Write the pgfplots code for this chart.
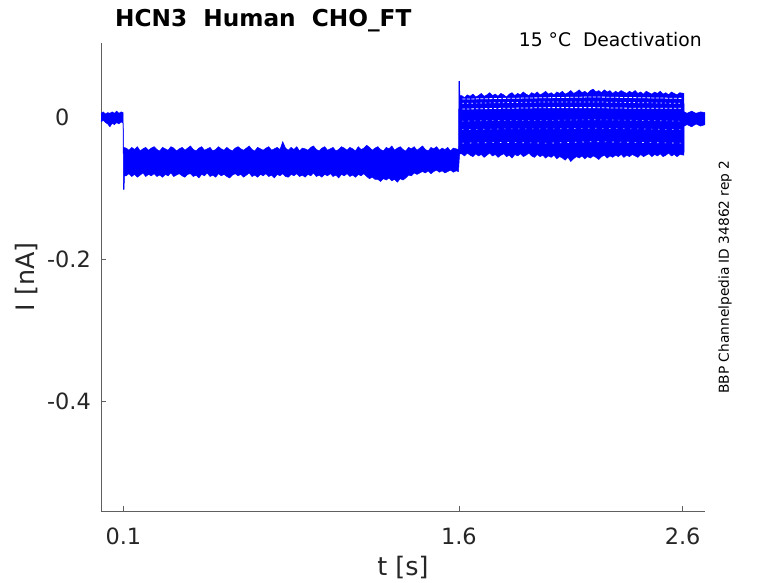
\documentclass[border=0pt]{standalone}
\usepackage{pgfplots}
\pgfplotsset{compat=1.18}
\usepgfplotslibrary{fillbetween}
\usepackage{fontspec}
\setmainfont{DejaVu Sans}
\definecolor{txt}{RGB}{38,38,38}
\definecolor{axc}{RGB}{95,95,95}
\definecolor{tr}{RGB}{0,0,255}
\begin{document}
\begin{tikzpicture}
\begin{axis}[
 at={(0,0)}, anchor=south west,
 scale only axis, width=604bp, height=468bp,
 xmin=0, xmax=2.7, ymin=-0.554, ymax=0.105,
 clip=false,
 axis x line*=bottom, axis y line*=left,
 axis line style={axc, line width=0.6bp, -},
 xtick={0.1,1.6,2.6}, xticklabels={0.1,1.6,2.6},
 ytick={-0.4,-0.2,0}, yticklabels={-0.4,-0.2,0\phantom{.0}},
 tick align=inside, major tick length=5bp,
 tick style={axc, line width=0.6bp},
 xticklabel style={font=\fontsize{22.5}{26}\selectfont, text=txt, anchor=north, inner sep=0pt, yshift=-17bp},
 yticklabel style={font=\fontsize{22.5}{26}\selectfont, text=txt, anchor=east, inner sep=0pt, xshift=-10bp},
 xlabel={t [s]}, ylabel={I [nA]},
 xlabel style={font=\fontsize{25.5}{30}\selectfont, text=txt, at={(axis description cs:0.5,-0.1368)}, anchor=base},
 ylabel style={font=\fontsize{25.5}{30}\selectfont, text=txt, at={(axis description cs:-0.1225,0.5)}, anchor=center},
]
% upper envelope of all sweeps
\addplot[name path=up, draw=tr, line width=0.5bp] coordinates {
(0.000,0.006)(0.010,0.008)(0.020,0.005)(0.030,0.007)(0.040,0.006)(0.050,0.008)(0.060,0.006)(0.070,0.009)(0.080,0.006)(0.090,0.008)(0.099,0.007)
(0.100,-0.042)(0.1125,-0.043)(0.125,-0.046)(0.1375,-0.042)(0.15,-0.045)(0.1625,-0.041)(0.175,-0.047)(0.1875,-0.044)(0.2,-0.042)(0.2125,-0.046)(0.225,-0.043)
(0.2375,-0.041)(0.25,-0.045)(0.2625,-0.047)(0.275,-0.042)(0.2875,-0.044)(0.3,-0.046)(0.3125,-0.041)(0.325,-0.043)(0.3375,-0.047)(0.35,-0.044)
(0.3625,-0.042)(0.375,-0.046)(0.3875,-0.043)(0.4,-0.040)(0.4125,-0.045)(0.425,-0.047)(0.4375,-0.043)(0.45,-0.041)(0.4625,-0.046)(0.475,-0.044)
(0.4875,-0.042)(0.5,-0.047)(0.5125,-0.045)(0.525,-0.041)(0.5375,-0.044)(0.55,-0.046)(0.5625,-0.042)(0.575,-0.045)(0.5875,-0.047)(0.6,-0.043)
(0.6125,-0.041)(0.625,-0.044)(0.6375,-0.046)(0.65,-0.043)(0.6625,-0.040)(0.675,-0.045)(0.6875,-0.047)(0.7,-0.042)(0.7125,-0.044)(0.725,-0.046)
(0.7375,-0.043)(0.75,-0.041)(0.7625,-0.046)(0.775,-0.044)(0.7875,-0.042)(0.8,-0.045)(0.8125,-0.034)(0.825,-0.043)(0.8375,-0.046)(0.85,-0.042)
(0.8625,-0.045)(0.875,-0.041)(0.8875,-0.047)(0.9,-0.043)(0.9125,-0.044)(0.925,-0.046)(0.9375,-0.042)(0.95,-0.040)(0.9625,-0.045)(0.975,-0.047)
(0.9875,-0.043)(1.0,-0.041)(1.0125,-0.046)(1.025,-0.044)(1.0375,-0.042)(1.05,-0.047)(1.0625,-0.045)(1.075,-0.041)(1.0875,-0.043)(1.1,-0.046)
(1.1125,-0.042)(1.125,-0.044)(1.1375,-0.047)(1.15,-0.041)(1.1625,-0.045)(1.175,-0.043)(1.1875,-0.039)(1.2,-0.042)(1.2125,-0.046)(1.225,-0.043)
(1.2375,-0.041)(1.25,-0.045)(1.2625,-0.047)(1.275,-0.042)(1.2875,-0.044)(1.3,-0.040)(1.3125,-0.046)(1.325,-0.043)(1.3375,-0.041)(1.35,-0.045)
(1.3625,-0.047)(1.375,-0.042)(1.3875,-0.044)(1.4,-0.041)(1.4125,-0.046)(1.425,-0.043)(1.4375,-0.040)(1.45,-0.045)(1.4625,-0.047)(1.475,-0.042)
(1.4875,-0.044)(1.5,-0.041)(1.5125,-0.046)(1.525,-0.043)(1.5375,-0.045)(1.55,-0.042)(1.5625,-0.047)(1.575,-0.043)(1.5875,-0.044)(1.598,-0.045)
(1.600,0.051)(1.603,0.051)(1.604,0.031)
(1.6125,0.031)(1.625,0.028)(1.6375,0.032)(1.65,0.030)(1.6625,0.033)(1.675,0.029)(1.6875,0.031)(1.7,0.034)(1.7125,0.030)(1.725,0.032)
(1.7375,0.035)(1.75,0.031)(1.7625,0.033)(1.775,0.030)(1.7875,0.034)(1.8,0.032)(1.8125,0.029)(1.825,0.033)(1.8375,0.035)(1.85,0.031)
(1.8625,0.034)(1.875,0.032)(1.8875,0.036)(1.9,0.033)(1.9125,0.031)(1.925,0.035)(1.9375,0.033)(1.95,0.036)(1.9625,0.032)(1.975,0.034)
(1.9875,0.037)(2.0,0.033)(2.0125,0.035)(2.025,0.032)(2.0375,0.036)(2.05,0.034)(2.0625,0.037)(2.075,0.033)(2.0875,0.035)(2.1,0.038)
(2.1125,0.034)(2.125,0.036)(2.1375,0.039)(2.15,0.035)(2.1625,0.037)(2.175,0.034)(2.1875,0.038)(2.2,0.040)(2.2125,0.036)(2.225,0.038)
(2.2375,0.035)(2.25,0.039)(2.2625,0.036)(2.275,0.038)(2.2875,0.034)(2.3,0.037)(2.3125,0.035)(2.325,0.038)(2.3375,0.036)(2.35,0.034)
(2.3625,0.037)(2.375,0.035)(2.3875,0.038)(2.4,0.034)(2.4125,0.036)(2.425,0.033)(2.4375,0.037)(2.45,0.035)(2.4625,0.033)(2.475,0.036)
(2.4875,0.034)(2.5,0.037)(2.5125,0.033)(2.525,0.035)(2.5375,0.032)(2.55,0.036)(2.5625,0.034)(2.575,0.032)(2.5875,0.035)(2.605,0.034)
(2.607,0.008)(2.620,0.006)(2.640,0.009)(2.660,0.006)(2.680,0.008)(2.700,0.007)
};
% lower envelope of all sweeps
\addplot[name path=lo, draw=tr, line width=0.5bp] coordinates {
(0.000,-0.006)(0.010,-0.004)(0.020,-0.007)(0.030,-0.009)(0.040,-0.013)(0.050,-0.008)(0.060,-0.010)(0.070,-0.007)(0.080,-0.009)(0.090,-0.006)(0.099,-0.008)
(0.100,-0.101)(0.103,-0.101)(0.105,-0.082)
(0.1125,-0.082)(0.125,-0.079)(0.1375,-0.083)(0.15,-0.080)(0.1625,-0.084)(0.175,-0.081)(0.1875,-0.078)(0.2,-0.083)(0.2125,-0.080)(0.225,-0.082)
(0.2375,-0.079)(0.25,-0.083)(0.2625,-0.081)(0.275,-0.084)(0.2875,-0.080)(0.3,-0.082)(0.3125,-0.078)(0.325,-0.083)(0.3375,-0.081)(0.35,-0.079)
(0.3625,-0.082)(0.375,-0.084)(0.3875,-0.080)(0.4,-0.079)(0.4125,-0.083)(0.425,-0.081)(0.4375,-0.085)(0.45,-0.080)(0.4625,-0.082)(0.475,-0.078)
(0.4875,-0.083)(0.5,-0.081)(0.5125,-0.084)(0.525,-0.079)(0.5375,-0.082)(0.55,-0.080)(0.5625,-0.083)(0.575,-0.085)(0.5875,-0.081)(0.6,-0.079)
(0.6125,-0.082)(0.625,-0.080)(0.6375,-0.084)(0.65,-0.081)(0.6625,-0.078)(0.675,-0.083)(0.6875,-0.081)(0.7,-0.084)(0.7125,-0.080)(0.725,-0.082)
(0.7375,-0.079)(0.75,-0.083)(0.7625,-0.081)(0.775,-0.085)(0.7875,-0.080)(0.8,-0.082)(0.8125,-0.079)(0.825,-0.083)(0.8375,-0.084)(0.85,-0.080)
(0.8625,-0.082)(0.875,-0.079)(0.8875,-0.083)(0.9,-0.081)(0.9125,-0.084)(0.925,-0.080)(0.9375,-0.082)(0.95,-0.078)(0.9625,-0.083)(0.975,-0.081)
(0.9875,-0.084)(1.0,-0.080)(1.0125,-0.082)(1.025,-0.079)(1.0375,-0.083)(1.05,-0.081)(1.0625,-0.085)(1.075,-0.080)(1.0875,-0.082)(1.1,-0.079)
(1.1125,-0.083)(1.125,-0.081)(1.1375,-0.084)(1.15,-0.080)(1.1625,-0.082)(1.175,-0.079)(1.1875,-0.083)(1.2,-0.086)(1.2125,-0.084)(1.225,-0.087)
(1.2375,-0.087)(1.25,-0.090)(1.2625,-0.086)(1.275,-0.088)(1.2875,-0.085)(1.3,-0.089)(1.3125,-0.087)(1.325,-0.091)(1.3375,-0.086)(1.35,-0.088)
(1.3625,-0.085)(1.375,-0.081)(1.3875,-0.082)(1.4,-0.078)(1.4125,-0.080)(1.425,-0.078)(1.4375,-0.076)(1.45,-0.078)(1.4625,-0.075)(1.475,-0.079)
(1.4875,-0.076)(1.5,-0.074)(1.5125,-0.077)(1.525,-0.075)(1.5375,-0.078)(1.55,-0.076)(1.5625,-0.074)(1.575,-0.077)(1.5875,-0.075)(1.598,-0.076)
(1.603,-0.051)
(1.6125,-0.051)(1.625,-0.054)(1.6375,-0.050)(1.65,-0.053)(1.6625,-0.055)(1.675,-0.051)(1.6875,-0.054)(1.7,-0.052)(1.7125,-0.056)(1.725,-0.053)
(1.7375,-0.050)(1.75,-0.054)(1.7625,-0.052)(1.775,-0.056)(1.7875,-0.053)(1.8,-0.051)(1.8125,-0.055)(1.825,-0.053)(1.8375,-0.057)(1.85,-0.052)
(1.8625,-0.054)(1.875,-0.051)(1.8875,-0.055)(1.9,-0.053)(1.9125,-0.050)(1.925,-0.054)(1.9375,-0.056)(1.95,-0.052)(1.9625,-0.055)(1.975,-0.053)
(1.9875,-0.057)(2.0,-0.054)(2.0125,-0.056)(2.025,-0.053)(2.0375,-0.058)(2.05,-0.055)(2.0625,-0.057)(2.075,-0.060)(2.0875,-0.056)(2.1,-0.062)
(2.1125,-0.058)(2.125,-0.055)(2.1375,-0.057)(2.15,-0.054)(2.1625,-0.058)(2.175,-0.055)(2.1875,-0.057)(2.2,-0.054)(2.2125,-0.056)(2.225,-0.059)
(2.2375,-0.055)(2.25,-0.053)(2.2625,-0.057)(2.275,-0.054)(2.2875,-0.056)(2.3,-0.053)(2.3125,-0.055)(2.325,-0.052)(2.3375,-0.056)(2.35,-0.053)
(2.3625,-0.055)(2.375,-0.052)(2.3875,-0.054)(2.4,-0.056)(2.4125,-0.052)(2.425,-0.055)(2.4375,-0.053)(2.45,-0.051)(2.4625,-0.055)(2.475,-0.052)
(2.4875,-0.054)(2.5,-0.051)(2.5125,-0.055)(2.525,-0.053)(2.5375,-0.050)(2.55,-0.054)(2.5625,-0.052)(2.575,-0.055)(2.5875,-0.052)(2.606,-0.053)
(2.607,-0.012)(2.620,-0.010)(2.640,-0.013)(2.660,-0.009)(2.680,-0.012)(2.700,-0.010)
};
\addplot[tr] fill between[of=up and lo];
% gaps between individual sweeps during the test pulse
\addplot[white, line width=0.8bp, dash pattern=on 3bp off 1.5bp] coordinates {(1.615,0.026)(1.800,0.027)(2.000,0.028)(2.200,0.029)(2.400,0.028)(2.595,0.027)};
\addplot[white, line width=0.7bp, dash pattern=on 1.5bp off 3bp] coordinates {(1.615,0.020)(1.800,0.021)(2.000,0.022)(2.200,0.022)(2.400,0.021)(2.595,0.020)};
\addplot[white, line width=0.8bp, dash pattern=on 2.5bp off 2bp] coordinates {(1.615,0.012)(1.800,0.013)(2.000,0.014)(2.200,0.014)(2.400,0.013)(2.595,0.013)};
\addplot[white, line width=0.6bp, dash pattern=on 1bp off 5bp] coordinates {(1.615,-0.005)(1.800,-0.004)(2.000,-0.004)(2.200,-0.003)(2.400,-0.004)(2.595,-0.005)};
\addplot[white, line width=0.6bp, dash pattern=on 1bp off 6bp] coordinates {(1.615,-0.017)(1.800,-0.016)(2.000,-0.016)(2.200,-0.015)(2.400,-0.016)(2.595,-0.017)};
\addplot[white, line width=0.6bp, dash pattern=on 1.5bp off 6bp] coordinates {(1.615,-0.036)(1.800,-0.035)(2.000,-0.036)(2.200,-0.034)(2.400,-0.035)(2.595,-0.036)};
\node[anchor=base west, inner sep=0pt, font=\fontsize{23.3}{27}\selectfont\bfseries, text=black] at (rel axis cs:0.0232,1.0363) {HCN3\ \ Human\ \ CHO\_FT};
\node[anchor=base east, inner sep=0pt, font=\fontsize{18.8}{22}\selectfont, text=black] at (rel axis cs:0.995,0.9915) {15 °C\ \ Deactivation};
\node[anchor=base, inner sep=0pt, rotate=90, font=\fontsize{13.8}{16}\selectfont, text=black] at (rel axis cs:1.0397,0.5) {BBP Channelpedia ID 34862 rep 2};
\end{axis}
\pgfresetboundingbox
\path[use as bounding box] (-101bp,-72bp) rectangle (677bp,511bp);
\end{tikzpicture}
\end{document}
